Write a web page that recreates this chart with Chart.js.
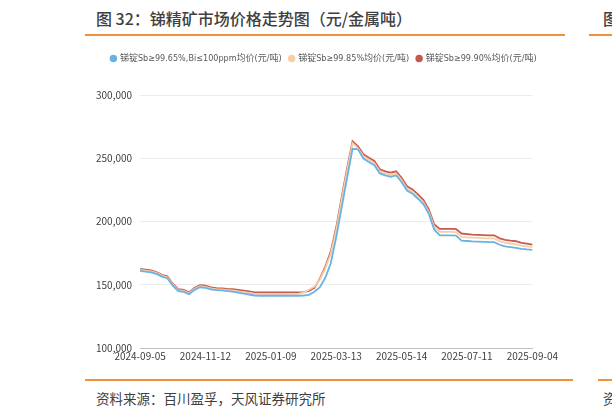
<!DOCTYPE html>
<html>
<head>
<meta charset="utf-8">
<script src="https://cdn.jsdelivr.net/npm/chart.js@4"></script>
<style>
  html, body { margin:0; padding:0; background:#fff; width:612px; height:415px; overflow:hidden; font-family:"Noto Sans CJK SC","Noto Sans",sans-serif; }
  #title { position:absolute; left:96px; top:6px; font-size:16px; color:#404040; font-weight:500; white-space:nowrap; }
  #title2 { position:absolute; left:603px; top:6px; font-size:16px; color:#404040; font-weight:500; white-space:nowrap; }
  .rule { position:absolute; height:2px; background:#f0923a; }
  #src { position:absolute; left:96px; top:388px; font-size:13.5px; color:#404040; white-space:nowrap; }
  #src2 { position:absolute; left:603px; top:388px; font-size:13.5px; color:#404040; white-space:nowrap; }
  #wrap { position:absolute; left:88px; top:46px; width:472px; height:318px; }
</style>
</head>
<body>
<div id="title">图 32：锑精矿市场价格走势图（元/金属吨）</div>
<div id="title2">图</div>
<div class="rule" style="left:85px; top:34px; width:480px;"></div>
<div class="rule" style="left:589px; top:34px; width:23px;"></div>
<div id="wrap"><canvas id="c"></canvas></div>
<div class="rule" style="left:85px; top:379px; width:488px;"></div>
<div class="rule" style="left:598px; top:379px; width:14px;"></div>
<div id="src">资料来源：百川盈孚，天风证券研究所</div>
<div id="src2">资</div>
<script>
const categories = [
  '2024-09-05','2024-09-11','2024-09-18','2024-09-24','2024-09-27','2024-10-09','2024-10-15','2024-10-18','2024-10-24','2024-10-30','2024-11-05','2024-11-08',
  '2024-11-12','2024-11-15','2024-11-21','2024-11-26','2024-12-02','2024-12-05','2024-12-11','2024-12-16','2024-12-20','2024-12-25','2024-12-30','2025-01-03',
  '2025-01-09','2025-01-14','2025-01-17','2025-01-22','2025-01-27','2025-02-07','2025-02-12','2025-02-17','2025-02-21','2025-02-26','2025-03-03','2025-03-07',
  '2025-03-13','2025-03-18','2025-03-21','2025-03-26','2025-03-31','2025-04-07','2025-04-11','2025-04-16','2025-04-21','2025-04-25','2025-04-30','2025-05-09',
  '2025-05-14','2025-05-19','2025-05-22','2025-05-27','2025-06-03','2025-06-06','2025-06-11','2025-06-16','2025-06-20','2025-06-25','2025-06-30','2025-07-04',
  '2025-07-11','2025-07-16','2025-07-21','2025-07-24','2025-07-29','2025-08-01','2025-08-06','2025-08-11','2025-08-14','2025-08-19','2025-08-22','2025-08-28',
  '2025-09-04'
];
const tickLabels = ['2024-09-05','2024-11-12','2025-01-09','2025-03-13','2025-05-14','2025-07-11','2025-09-04'];
const yTicks = [100000,150000,200000,250000,300000];

// 锑锭Sb≥99.65%,Bi≤100ppm
const seriesA = [
  161000,160400,159800,158600,156400,155200,149200,145000,144400,142500,146000,148000,
  147600,146400,145800,145500,145000,144600,143800,143000,142300,141500,141300,141300,
  141300,141300,141300,141300,141300,141300,141500,142000,144500,148000,155500,167000,
  187500,211000,234500,257500,257000,249800,247000,244500,238000,236400,235400,236400,
  231200,224500,222000,218000,213800,206000,193500,189100,189100,189100,188900,184900,
  184600,184300,184100,183900,183700,183700,181600,180400,179800,179200,178400,177900,
  177600
];
// 锑锭Sb≥99.85%
const seriesB = [
  161800,161200,160600,159400,157200,156000,150000,145800,145200,143300,146800,148800,
  148400,147200,146600,146300,145800,145500,144800,144200,143600,142800,142600,142600,
  142600,142600,142600,142600,142600,142800,143800,146000,148500,154000,163000,174500,
  193000,217000,240000,262000,257800,251500,248700,246200,239600,238000,237000,238000,
  232800,226000,223600,219600,215200,207600,195500,191800,191800,191800,191600,187800,
  187500,187200,187000,186800,186600,186600,184400,183200,182600,182000,180900,180400,
  179800
];
// 锑锭Sb≥99.90%
const seriesC = [
  162500,161900,161300,160100,157900,156700,150800,146600,146000,144000,147600,149600,
  149200,148000,147400,147200,146800,146600,146000,145400,144800,144000,143900,143900,
  143900,143900,143900,143900,143900,143900,144200,145200,147600,154800,164300,176200,
  195200,219000,242100,263500,259500,253200,250400,247900,241300,239700,238700,239700,
  234500,227800,225400,221400,217100,209500,197600,194200,194200,194200,194000,190500,
  190100,189700,189500,189300,189100,189100,186700,185500,184900,184400,183100,182500,
  181700
];
const names = ['锑锭Sb≥99.65%,Bi≤100ppm均价(元/吨)','锑锭Sb≥99.85%均价(元/吨)','锑锭Sb≥99.90%均价(元/吨)'];
const colors = ['#66b3e6','#f5cfa8','#c9594e'];

const font = "'Noto Sans CJK SC','Noto Sans',sans-serif";
const legendFont = "'Liberation Sans Narrow','DejaVu Sans Condensed','Noto Sans CJK SC',sans-serif";
new Chart(document.getElementById('c'), {
  type: 'line',
  data: {
    labels: categories,
    datasets: [
      { label: names[0], data: seriesA, borderColor: colors[0], backgroundColor: colors[0], borderWidth: 1.8, pointRadius: 0, tension: 0 },
      { label: names[1], data: seriesB, borderColor: colors[1], backgroundColor: colors[1], borderWidth: 1.8, pointRadius: 0, tension: 0 },
      { label: names[2], data: seriesC, borderColor: colors[2], backgroundColor: colors[2], borderWidth: 1.8, pointRadius: 0, tension: 0 }
    ]
  },
  options: {
    responsive: true, maintainAspectRatio: false, animation: false,
    layout: { padding: { left: 0, right: 0, top: 0, bottom: 0 } },
    plugins: {
      legend: {
        position: 'top',
        labels: { usePointStyle: true, pointStyle: 'circle', boxWidth: 4, boxHeight: 4, padding: 8, color: '#595959', font: { family: legendFont, size: 9 } }
      },
      tooltip: { enabled: false }
    },
    scales: {
      x: {
        type: 'category',
        grid: { display: false, drawTicks: false },
        border: { display: true, color: '#bfbfbf' },
        ticks: {
          autoSkip: false, maxRotation: 0, minRotation: 0, padding: 2,
          color: '#404040', font: { family: font, size: 10 },
          callback: function(v, i) { const l = categories[i]; return tickLabels.includes(l) ? l : ''; }
        }
      },
      y: {
        min: 100000, max: 300000,
        afterBuildTicks: (s) => { s.ticks = yTicks.map(v => ({ value: v })); },
        grid: { color: '#ececec', drawTicks: false },
        border: { display: false },
        ticks: { padding: 8, color: '#404040', font: { family: font, size: 10 }, callback: v => v.toLocaleString('en-US') }
      }
    }
  },
  plugins: [{
    id: 'legendGap',
    afterInit(chart) {
      const lg = chart.legend;
      const f = lg.fit;
      lg.fit = function() { f.bind(lg)(); this.height += 22; };
    }
  }]
});
</script>
</body>
</html>
